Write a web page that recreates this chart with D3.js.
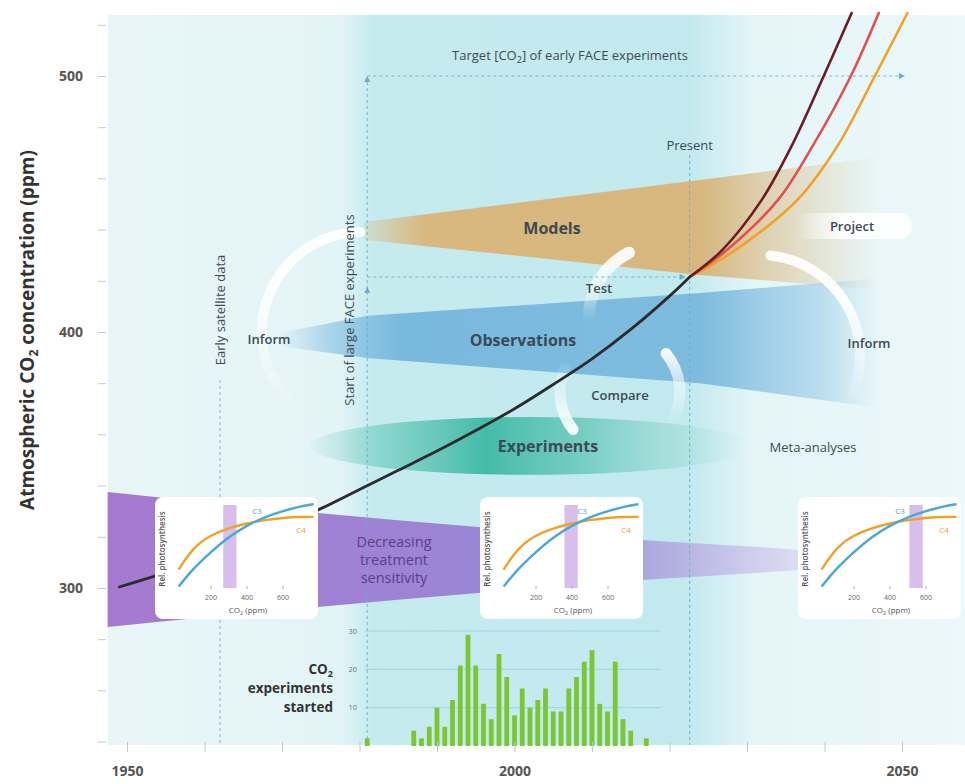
<!DOCTYPE html>
<html>
<head>
<meta charset="utf-8">
<title>Atmospheric CO2 and plant experiments</title>
<script src="https://cdn.jsdelivr.net/npm/d3@7"></script>
<style>
  html, body { margin: 0; padding: 0; background: #ffffff; }
  svg { display: block; font-family: "Open Sans", "DejaVu Sans", sans-serif; }
</style>
</head>
<body>
<svg id="chart" width="965" height="784"></svg>
<script>
// ---- values ----
// observed CO2 record (year, ppm)
var co2Years = [1949, 1954, 1960, 1965, 1970, 1975, 1980, 1985, 1990, 1995, 2000, 2005, 2010, 2015, 2020, 2022.6];
var co2Ppm = [300.4, 305, 311, 318, 324.5, 331, 338.5, 346, 353.5, 361.5, 370, 379.5, 389.5, 401, 414, 421.5];

// three projections from the present
var projPpm = [421.5, 432, 451.6, 472.3, 500, 524.6];
var projHighYears = [2022.6, 2026.8, 2031.9, 2035.7, 2039.9, 2043.5];
var projMidYears = [2022.6, 2027.4, 2034.0, 2038.4, 2043.4, 2047.0];
var projLowYears = [2022.6, 2028.5, 2036.5, 2041.6, 2046.5, 2050.7];

// CO2 experiments started per year
var expYears = [1981, 1987, 1988, 1989, 1990, 1991, 1992, 1993, 1994, 1995, 1996, 1997, 1998, 1999, 2000, 2001,
  2002, 2003, 2004, 2005, 2006, 2007, 2008, 2009, 2010, 2011, 2012, 2013, 2014, 2015, 2017];
var expCounts = [2, 4, 2, 5, 10, 5, 12, 21, 29, 21, 11, 7, 24, 18, 8, 15,
  10, 12, 15, 9, 9, 15, 18, 22, 25, 11, 9, 22, 7, 4, 2];

// ticks
var yTicks = [240, 260, 280, 300, 320, 340, 360, 380, 400, 420, 440, 460, 480, 500, 520];
var yTickLabels = [300, 400, 500];
var xTicks = [1950, 1960, 1970, 1980, 1990, 2000, 2010, 2020, 2030, 2040, 2050];
var xTickLabels = [1950, 2000, 2050];
var barTicks = [10, 20, 30];

// schematic bands (year, ppm)
var modelYears = [1980.6, 2023.9, 2047.2];
var modelTop = [443, 459.4, 468.4];
var modelBottom = [436, 422.3, 416.4];
var obsYears = [1969.5, 1981, 2023.9, 2047.2];
var obsTop = [399.5, 406.3, 415.2, 421];
var obsBottom = [394.5, 389.8, 380, 370.3];
var sensYears = [1947.5, 1974.6, 1995.3, 2016.5, 2036.6, 2040];
var sensTop = [337.5, 329.3, 323.8, 318.75, 314.8, 313.8];
var sensBottom = [284.8, 292.6, 298, 303.1, 307, 307.8];
var expCentre = [2002, 355.5];
var expHalf = [28.4, 11.3];

// event markers
var satelliteYear = 1962;
var faceYear = 1981;
var presentYear = 2022.6;
var faceTargetPpm = 500;
var presentPpm = 421.5;

// inset photosynthesis response curves
var insetCo2 = [20, 100, 200, 300, 400, 500, 600, 700, 770];
var c3Rel = [0.04, 0.25, 0.45, 0.63, 0.76, 0.86, 0.93, 0.985, 1.01];
var c4Rel = [0.24, 0.5, 0.65, 0.73, 0.785, 0.825, 0.85, 0.86, 0.86];
var insetBandCentre = [305, 395, 545];
var insetBandHalf = 37;
var insetTicks = [200, 400, 600];

// ---- scales ----
var x = d3.scaleLinear().domain([1950, 2050]).range([127, 902]);
var y = d3.scaleLinear().domain([400, 500]).range([332, 76]);
var yBar = d3.scaleLinear().domain([0, 30]).range([746, 631]);

var plotLeft = 108, plotRight = 965, plotTop = 15, plotBottom = 745;
var textColor = "#3c4a54";
var dashColor = "#6aaccc";

var svg = d3.select("#chart");
var defs = svg.append("defs");

function gradient(id, x1, y1, x2, y2, stops) {
  var g = defs.append("linearGradient").attr("id", id)
    .attr("gradientUnits", "userSpaceOnUse")
    .attr("x1", x1).attr("y1", y1).attr("x2", x2).attr("y2", y2);
  stops.forEach(function (s) {
    g.append("stop").attr("offset", s[0]).attr("stop-color", s[1])
      .attr("stop-opacity", s[2] == null ? 1 : s[2]);
  });
}
function off(px, a, b) { return (px - a) / (b - a); }

// background with the darker experiment era band
gradient("bgGrad", plotLeft, 0, plotRight, 0, [
  [0, "#e8f6f8"], [off(340, plotLeft, plotRight), "#e3f4f7"],
  [off(372, plotLeft, plotRight), "#c5ebef"], [off(690, plotLeft, plotRight), "#c2e9ee"],
  [off(752, plotLeft, plotRight), "#e4f5f8"], [1, "#ecf8fa"]
]);
svg.append("rect").attr("x", plotLeft).attr("y", plotTop)
  .attr("width", plotRight - plotLeft).attr("height", plotBottom - plotTop)
  .attr("fill", "url(#bgGrad)");

// ---- Models / Observations / Experiments bands ----
function band(years, top, bottom) {
  return years.map(function (yr, i) { return { year: yr, top: top[i], bottom: bottom[i] }; });
}
var bandArea = d3.area()
  .x(function (d) { return x(d.year); })
  .y0(function (d) { return y(d.bottom); })
  .y1(function (d) { return y(d.top); });

var mx0 = x(modelYears[0]), mx1 = x(modelYears[modelYears.length - 1]);
gradient("modelGrad", mx0, 0, mx1, 0, [
  [0, "#d8b87e", 0.25], [off(425, mx0, mx1), "#d8b87e", 1], [off(700, mx0, mx1), "#d7b77d", 1],
  [off(800, mx0, mx1), "#dcc08e", 0.45], [1, "#e0c89a", 0]
]);
svg.append("path").datum(band(modelYears, modelTop, modelBottom))
  .attr("d", bandArea).attr("fill", "url(#modelGrad)");

var ox0 = x(obsYears[0]), ox1 = x(obsYears[obsYears.length - 1]);
gradient("obsGrad", ox0, 0, ox1, 0, [
  [0, "#7cbbe0", 0], [off(330, ox0, ox1), "#7cbbe0", 0.55], [off(400, ox0, ox1), "#7ab9de", 1],
  [off(700, ox0, ox1), "#7ab9de", 0.95], [off(820, ox0, ox1), "#8cc4e4", 0.5], [1, "#a0cfe8", 0]
]);
svg.append("path").datum(band(obsYears, obsTop, obsBottom))
  .attr("d", bandArea).attr("fill", "url(#obsGrad)");

var ex0 = x(expCentre[0] - expHalf[0]), ex1 = x(expCentre[0] + expHalf[0]);
gradient("expGrad", ex0, 0, ex1, 0, [
  [0, "#5cc4b4", 0.05], [0.18, "#5cc4b4", 0.6], [0.4, "#44bba8", 1],
  [0.62, "#5cc4b4", 0.75], [0.85, "#7fd0c4", 0.3], [1, "#9fdcd2", 0]
]);
svg.append("ellipse")
  .attr("cx", x(expCentre[0])).attr("cy", y(expCentre[1]))
  .attr("rx", (ex1 - ex0) / 2).attr("ry", y(expCentre[1] - expHalf[1]) - y(expCentre[1]))
  .attr("fill", "url(#expGrad)");

// ---- white cycle arrows ----
function whiteArc(id, year, ppm, r, w, a0, a1, yOpaque, yClear) {
  var cx = x(year), cy = y(ppm);
  gradient(id, 0, yOpaque - cy, 0, yClear - cy, [[0, "#ffffff", 0.92], [1, "#ffffff", 0]]);
  svg.append("path")
    .attr("transform", "translate(" + cx + "," + cy + ")")
    .attr("d", d3.arc().innerRadius(r - w / 2).outerRadius(r + w / 2)
      .startAngle(a0 * Math.PI / 180).endAngle(a1 * Math.PI / 180).cornerRadius(w / 2)())
    .attr("fill", "url(#" + id + ")");
}
whiteArc("arcInformL", 1980.3, 400, 100, 10, -140, 2, 290, 415);
whiteArc("arcTest", 2019, 405.5, 73, 12, -100, -22, 262, 320);
whiteArc("arcCompL", 2013.6, 376.6, 60, 11, 226, 299, 428, 360);
whiteArc("arcCompR", 2013.6, 376.6, 60, 11, 45, 122, 352, 426);
whiteArc("arcInformR", 2031.7, 391, 100, 10, 3, 115, 300, 405);

gradient("pillGrad", 795, 0, 912, 0, [[0, "#ffffff", 0], [0.4, "#ffffff", 0.9], [1, "#ffffff", 0.9]]);
svg.append("rect").attr("x", 795).attr("y", 213).attr("width", 117).attr("height", 26)
  .attr("rx", 13).attr("fill", "url(#pillGrad)");

// ---- decreasing treatment sensitivity band ----
var sx0 = x(sensYears[0]), sx1 = x(sensYears[sensYears.length - 1]);
gradient("sensGrad", sx0, 0, sx1, 0, [
  [0, "#a679cf"], [off(480, sx0, sx1), "#9b86d6"], [off(640, sx0, sx1), "#a89ddd", 0.9], [1, "#dcd4f0", 0.6]
]);
svg.append("path").datum(band(sensYears, sensTop, sensBottom))
  .attr("d", d3.area()
    .x(function (d) { return x(d.year); })
    .y0(function (d) { return y(d.bottom); })
    .y1(function (d) { return y(d.top); })
    .curve(d3.curveMonotoneX))
  .attr("fill", "url(#sensGrad)");

// ---- dashed markers ----
function dashed(x1, y1, x2, y2) {
  svg.append("line").attr("x1", x1).attr("y1", y1).attr("x2", x2).attr("y2", y2)
    .attr("stroke", dashColor).attr("stroke-width", 1).attr("stroke-dasharray", "3,3")
    .attr("opacity", 0.85);
}
function arrowHead(px, py, dir) {
  var p = dir === "up"
    ? [[px, py], [px - 3, py + 6], [px + 3, py + 6]]
    : [[px, py], [px - 6, py - 3], [px - 6, py + 3]];
  svg.append("path").attr("d", "M" + p.join("L") + "Z").attr("fill", dashColor);
}
dashed(x(satelliteYear), 380, x(satelliteYear), plotBottom);
dashed(x(faceYear), plotBottom, x(faceYear), y(faceTargetPpm) + 4);
arrowHead(x(faceYear), y(faceTargetPpm), "up");
arrowHead(x(faceYear), y(presentPpm) + 10, "up");
dashed(x(faceYear), y(faceTargetPpm), x(2050), y(faceTargetPpm));
arrowHead(x(2050) + 3, y(faceTargetPpm), "right");
dashed(x(faceYear), y(presentPpm), x(presentYear) - 8, y(presentPpm));
arrowHead(x(presentYear) - 4, y(presentPpm), "right");
dashed(x(presentYear), 155, x(presentYear), plotBottom);

// ---- experiments started bar chart ----
svg.append("g").selectAll("line").data(barTicks).enter().append("line")
  .attr("x1", 365).attr("x2", 660)
  .attr("y1", function (d) { return yBar(d); }).attr("y2", function (d) { return yBar(d); })
  .attr("stroke", "#8fcbd8").attr("stroke-width", 1).attr("opacity", 0.7);
svg.append("g").selectAll("text").data(barTicks).enter().append("text")
  .attr("x", 357).attr("y", function (d) { return yBar(d); }).attr("dy", "0.35em")
  .attr("text-anchor", "end").attr("font-size", 7.5).attr("fill", "#6a767c")
  .text(function (d) { return d; });
svg.append("g").selectAll("rect").data(expYears).enter().append("rect")
  .attr("x", function (d) { return x(d) - 2.4; })
  .attr("y", function (d, i) { return yBar(expCounts[i]); })
  .attr("width", 4.8)
  .attr("height", function (d, i) { return yBar(0) - yBar(expCounts[i]); })
  .attr("fill", "#7cc635");

// ---- CO2 curve and projections ----
var line = d3.line().x(function (d) { return x(d[0]); }).y(function (d) { return y(d[1]); })
  .curve(d3.curveCatmullRom.alpha(0.5));
function pairs(xs, ys) { return xs.map(function (v, i) { return [v, ys[i]]; }); }
[[projLowYears, "#f0a126"], [projMidYears, "#e2504f"], [projHighYears, "#6e1b20"]].forEach(function (p) {
  svg.append("path").datum(pairs(p[0], projPpm)).attr("d", line)
    .attr("fill", "none").attr("stroke", p[1]).attr("stroke-width", 2.6).attr("stroke-linecap", "round");
});
svg.append("path").datum(pairs(co2Years, co2Ppm)).attr("d", line)
  .attr("fill", "none").attr("stroke", "#2b2b2d").attr("stroke-width", 2.8).attr("stroke-linecap", "round");

// ---- response-curve insets ----
var insetLeft = [155, 480, 798], insetTop = 497, insetW = 163, insetH = 122;
var ix = d3.scaleLinear().domain([0, 800]).range([20, 164]);
var iy = d3.scaleLinear().domain([0, 1]).range([93, 8]);
var iline = d3.line().x(function (d) { return ix(d[0]); }).y(function (d) { return iy(d[1]); })
  .curve(d3.curveBasis);

insetLeft.forEach(function (left, k) {
  var g = svg.append("g").attr("transform", "translate(" + left + "," + insetTop + ")");
  g.append("rect").attr("width", insetW).attr("height", insetH).attr("rx", 8).attr("fill", "#ffffff");
  g.append("rect")
    .attr("x", ix(insetBandCentre[k] - insetBandHalf)).attr("y", 8)
    .attr("width", ix(insetBandCentre[k] + insetBandHalf) - ix(insetBandCentre[k] - insetBandHalf))
    .attr("height", 83).attr("fill", "#c7a3e2").attr("opacity", 0.7);
  g.append("path").datum(pairs(insetCo2, c4Rel)).attr("d", iline)
    .attr("fill", "none").attr("stroke", "#f0a12a").attr("stroke-width", 2.4);
  g.append("path").datum(pairs(insetCo2, c3Rel)).attr("d", iline)
    .attr("fill", "none").attr("stroke", "#4aa7d6").attr("stroke-width", 2.4);
  g.selectAll(".itick").data(insetTicks).enter().append("line")
    .attr("x1", function (d) { return ix(d); }).attr("x2", function (d) { return ix(d); })
    .attr("y1", 89).attr("y2", 92).attr("stroke", "#999").attr("stroke-width", 0.8);
  g.selectAll(".ilab").data(insetTicks).enter().append("text")
    .attr("x", function (d) { return ix(d); }).attr("y", 103).attr("text-anchor", "middle")
    .attr("font-size", 7).attr("fill", "#666").text(function (d) { return d; });
  var xt = g.append("text").attr("x", 93).attr("y", 116).attr("text-anchor", "middle")
    .attr("font-size", 8).attr("fill", "#555");
  xt.append("tspan").text("CO");
  xt.append("tspan").attr("font-size", 5.5).attr("dy", 2).text("2");
  xt.append("tspan").attr("dy", -2).text(" (ppm)");
  g.append("text").attr("transform", "translate(10,52) rotate(-90)").attr("text-anchor", "middle")
    .attr("font-size", 8).attr("font-weight", 600).attr("fill", "#555").text("Rel. photosynthesis");
  g.append("text").attr("x", 102).attr("y", 17).attr("text-anchor", "middle")
    .attr("font-size", 8).attr("fill", "#4aa7d6").text("C3");
  g.append("text").attr("x", 146).attr("y", 36).attr("text-anchor", "middle")
    .attr("font-size", 8).attr("fill", "#f0a12a").text("C4");
});

// ---- axes ----
var yAxis = svg.append("g").attr("transform", "translate(106,0)")
  .call(d3.axisLeft(y).tickValues(yTicks).tickSize(8).tickPadding(15)
    .tickFormat(function (d) { return yTickLabels.indexOf(d) >= 0 ? d : ""; }));
yAxis.select(".domain").remove();
yAxis.attr("font-family", null).attr("font-size", 14).attr("font-weight", 700);
yAxis.selectAll("line").attr("stroke", "#c3c8cb");
yAxis.selectAll("text").attr("fill", "#555");

var xAxis = svg.append("g").attr("transform", "translate(0,742)")
  .call(d3.axisBottom(x).tickValues(xTicks).tickSize(10).tickPadding(14)
    .tickFormat(function (d) { return xTickLabels.indexOf(d) >= 0 ? d : ""; }));
xAxis.select(".domain").remove();
xAxis.attr("font-family", null).attr("font-size", 14).attr("font-weight", 700);
xAxis.selectAll("line").attr("stroke", "#c3c8cb");
xAxis.selectAll("text").attr("fill", "#555");

var yTitle = svg.append("text").attr("transform", "translate(27,330) rotate(-90)")
  .attr("text-anchor", "middle").attr("dy", "0.35em")
  .attr("font-size", 19).attr("font-weight", 700).attr("fill", "#333");
yTitle.append("tspan").text("Atmospheric CO");
yTitle.append("tspan").attr("font-size", 12).attr("dy", 4).text("2");
yTitle.append("tspan").attr("dy", -4).text(" concentration (ppm)");

// ---- annotations ----
function label(txt, px, py, size, weight, anchor) {
  return svg.append("text").attr("x", px).attr("y", py).attr("text-anchor", anchor || "middle")
    .attr("font-size", size).attr("font-weight", weight).attr("fill", textColor).text(txt);
}
var tgt = svg.append("text").attr("x", 570).attr("y", 60).attr("text-anchor", "middle")
  .attr("font-size", 13).attr("fill", textColor);
tgt.append("tspan").text("Target [CO");
tgt.append("tspan").attr("font-size", 9).attr("dy", 3).text("2");
tgt.append("tspan").attr("dy", -3).text("] of early FACE experiments");

label("Present", x(presentYear), 150, 13, 400);
label("Models", 552, 234, 16, 700);
label("Observations", 523, 346, 16, 700);
label("Experiments", 548, 452, 16, 700);
label("Test", 599, 293, 13, 600);
label("Compare", 620, 400, 13, 600);
label("Inform", 269, 344, 13, 600);
label("Inform", 869, 348, 13, 600);
label("Meta-analyses", 813, 452, 13, 400);
label("Project", 852, 231, 13, 600);

svg.append("text").attr("transform", "translate(" + x(satelliteYear) + ",310) rotate(-90)")
  .attr("text-anchor", "middle").attr("dy", "0.35em")
  .attr("font-size", 13).attr("fill", textColor).text("Early satellite data");
svg.append("text").attr("transform", "translate(349,310) rotate(-90)")
  .attr("text-anchor", "middle").attr("dy", "0.35em")
  .attr("font-size", 13).attr("fill", textColor).text("Start of large FACE experiments");

["Decreasing", "treatment", "sensitivity"].forEach(function (t, i) {
  svg.append("text").attr("x", 394).attr("y", 547 + i * 18).attr("text-anchor", "middle")
    .attr("font-size", 14.5).attr("font-weight", 500).attr("fill", "#5b3f86").text(t);
});

var co2Lab = svg.append("text").attr("x", 333).attr("y", 674).attr("text-anchor", "end")
  .attr("font-size", 13.5).attr("font-weight", 700).attr("fill", "#333");
co2Lab.append("tspan").text("CO");
co2Lab.append("tspan").attr("font-size", 9).attr("dy", 3).text("2");
label("experiments", 333, 693, 13.5, 700, "end").attr("fill", "#333");
label("started", 333, 712, 13.5, 700, "end").attr("fill", "#333");
</script>
</body>
</html>
